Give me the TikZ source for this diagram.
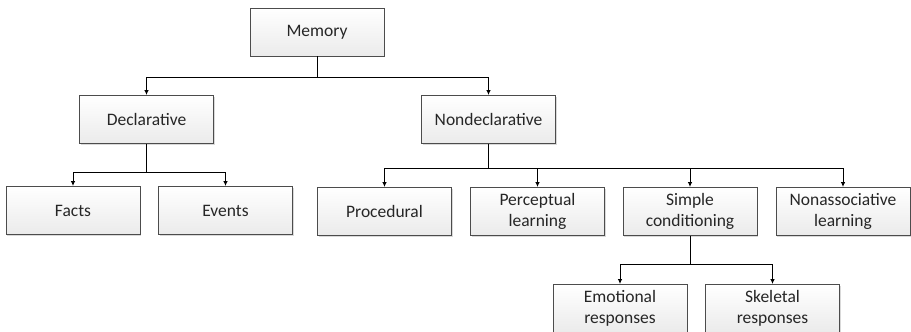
\documentclass[tikz,border=0pt]{standalone}
\usepackage{fontspec}
\setmainfont{Carlito}
\usetikzlibrary{arrows.meta,shadows}
\begin{document}
\begin{tikzpicture}[x=1pt,y=-1pt,
  box/.style={draw=black!70, line width=0.9pt, top color=white, bottom color=black!8,
    minimum width=134pt, minimum height=48pt, inner sep=0pt, align=center,
    font=\fontsize{17.5}{21.5}\selectfont, text=black!85,
    drop shadow={shadow xshift=1pt, shadow yshift=-1pt, opacity=0.25, fill=black!60}},
  stem/.style={draw=black, line width=0.9pt},
  link/.style={stem, -{Latex[length=5pt,width=4.5pt]}}]
\useasboundingbox (0,0) rectangle (911,332);

% tree levels
\node[box] (mem)  at (317,32)      {Memory};
\node[box] (dec)  at (146.5,119.5) {Declarative};
\node[box] (ndec) at (488.5,119.5) {Nondeclarative};

\node[box] (facts)  at (73,210.5)    {Facts};
\node[box] (events) at (225.5,210.5) {Events};

\node[box] (proc) at (384.5,211.5) {Procedural};
\node[box] (perc) at (537.5,211.5) {Perceptual\\learning};
\node[box] (simp) at (690,211.5)   {Simple\\conditioning};
\node[box] (nona) at (843,211.5)   {Nonassociative\\learning};

\node[box] (emo)  at (620,308.5)   {Emotional\\responses};
\node[box] (skel) at (772.5,308.5) {Skeletal\\responses};

% bus levels
\coordinate (b0) at (317,77);
\coordinate (b1) at (146.5,172);
\coordinate (b2) at (488.5,168);
\coordinate (b3) at (690,264);

% connectors
\draw[stem] (mem.south) -- (b0);
\draw[link] (b0) -| (dec.north);
\draw[link] (b0) -| (ndec.north);

\draw[stem] (dec.south) -- (b1);
\draw[link] (b1) -| (facts.north);
\draw[link] (b1) -| (events.north);

\draw[stem] (ndec.south) -- (b2);
\draw[link] (b2) -| (proc.north);
\draw[link] (b2) -| (perc.north);
\draw[link] (b2) -| (simp.north);
\draw[link] (b2) -| (nona.north);

\draw[stem] (simp.south) -- (b3);
\draw[link] (b3) -| (emo.north);
\draw[link] (b3) -| (skel.north);
\end{tikzpicture}
\end{document}
